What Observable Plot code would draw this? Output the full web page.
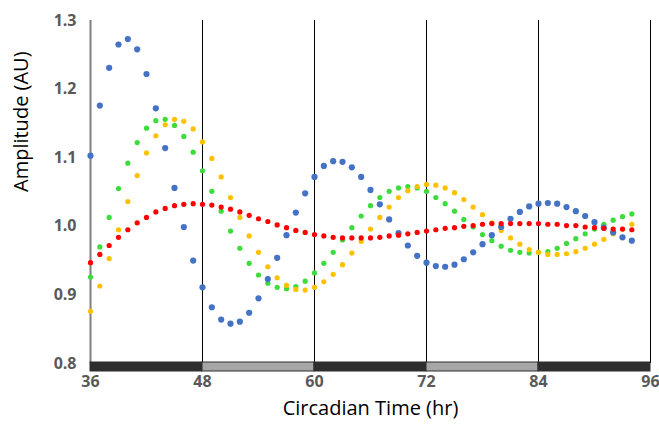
<!DOCTYPE html>
<html>
<head>
<meta charset="utf-8">
<script src="https://cdn.jsdelivr.net/npm/d3@7"></script>
<script src="https://cdn.jsdelivr.net/npm/@observablehq/plot@0.6"></script>
<style>
  html, body { margin: 0; padding: 0; background: #fff; }
  #chart { width: 659px; height: 430px; }
</style>
</head>
<body>
<div id="chart"></div>
<script>
const hours = [36,37,38,39,40,41,42,43,44,45,46,47,48,49,50,51,52,53,54,55,56,57,58,59,60,61,62,63,64,65,66,67,68,69,70,71,72,73,74,75,76,77,78,79,80,81,82,83,84,85,86,87,88,89,90,91,92,93,94];

const blueValues = [1.103,1.176,1.231,1.265,1.273,1.258,1.222,1.172,1.114,1.056,0.999,0.950,0.911,0.882,0.864,0.858,0.861,0.874,0.895,0.923,0.954,0.987,1.020,1.048,1.072,1.088,1.095,1.094,1.086,1.072,1.053,1.032,1.010,0.990,0.972,0.957,0.947,0.942,0.941,0.944,0.952,0.962,0.974,0.987,0.999,1.011,1.021,1.029,1.033,1.034,1.033,1.028,1.022,1.015,1.006,0.998,0.991,0.984,0.979];

const greenValues = [0.926,0.970,1.013,1.055,1.092,1.122,1.143,1.154,1.156,1.147,1.131,1.108,1.081,1.051,1.022,0.993,0.968,0.946,0.929,0.917,0.911,0.909,0.912,0.920,0.932,0.946,0.962,0.980,0.998,1.015,1.030,1.042,1.051,1.056,1.058,1.056,1.051,1.042,1.033,1.022,1.010,0.999,0.988,0.979,0.971,0.965,0.962,0.961,0.962,0.963,0.968,0.975,0.982,0.989,0.996,1.003,1.009,1.014,1.018];

const orangeValues = [0.876,0.913,0.953,0.995,1.036,1.074,1.107,1.132,1.148,1.156,1.153,1.142,1.123,1.099,1.072,1.042,1.013,0.986,0.962,0.941,0.925,0.914,0.908,0.907,0.911,0.919,0.930,0.944,0.961,0.978,0.996,1.013,1.028,1.042,1.052,1.058,1.061,1.060,1.056,1.049,1.039,1.028,1.017,1.005,0.994,0.983,0.974,0.966,0.962,0.959,0.959,0.960,0.963,0.968,0.974,0.981,0.989,0.996,1.003];

const redValues = [0.947,0.959,0.972,0.984,0.995,1.005,1.013,1.021,1.026,1.030,1.032,1.033,1.032,1.031,1.028,1.025,1.021,1.016,1.011,1.007,1.002,0.998,0.994,0.991,0.988,0.986,0.984,0.983,0.983,0.983,0.983,0.984,0.986,0.987,0.989,0.991,0.993,0.995,0.997,0.998,1.000,1.001,1.003,1.004,1.004,1.004,1.004,1.004,1.004,1.003,1.003,1.001,1.001,0.999,0.998,0.997,0.996,0.996,0.995];

const xTicks = [36,48,60,72,84,96];
const yTicks = [0.8,0.9,1.0,1.1,1.2,1.3];
const gridHours = [48,60,72,84,96];
const periods = [
  {start:36, end:48, phase:"dark"},
  {start:48, end:60, phase:"light"},
  {start:60, end:72, phase:"dark"},
  {start:72, end:84, phase:"light"},
  {start:84, end:96, phase:"dark"}
];

const series = [
  {name:"green", values:greenValues, color:"#3ddc3d", r:2.6},
  {name:"orange", values:orangeValues, color:"#ffc000", r:2.6},
  {name:"blue", values:blueValues, color:"#4472c4", r:3.1},
  {name:"red", values:redValues, color:"#ff0000", r:2.6}
];

const tickFont = "'Open Sans', 'Liberation Sans', sans-serif";
const titleFont = "'Open Sans', 'Liberation Sans', sans-serif";

const marks = [
  Plot.ruleX(gridHours, {x: d => d, y1: 0.8, y2: 1.3, stroke: "#000", strokeWidth: 1}),
  Plot.ruleX([36], {x: d => d, y1: 0.8, y2: 1.3, stroke: "#7f7f7f", strokeWidth: 2}),
  Plot.rect(periods, {x1: "start", x2: "end", y1: 0.8, y2: 0.8, insetTop: -1, insetBottom: -8,
    fill: d => d.phase === "dark" ? "#2e2e2e" : "#a6a6a6", stroke: "#2e2e2e", strokeWidth: 1}),
];
for (const s of series) {
  marks.push(Plot.dot(hours.map((h, i) => ({h, v: s.values[i]})), {
    x: "h", y: "v", r: s.r, fill: s.color, stroke: "none"
  }));
}
marks.push(
  Plot.axisX(xTicks, {tickSize: 0, tickPadding: 12, fontSize: 16, fontWeight: "bold", fill: "#595959", fontFamily: tickFont, label: null}),
  Plot.axisY(yTicks, {tickSize: 0, tickPadding: 14, fontSize: 16, fontWeight: "bold", fill: "#595959", fontFamily: tickFont, tickFormat: d3.format(".1f"), label: null}),
  Plot.text(["Circadian Time (hr)"], {frameAnchor: "bottom", dy: 51, fontSize: 20, fill: "#000", fontFamily: titleFont}),
  Plot.text(["Amplitude (AU)"], {frameAnchor: "left", dx: -69, rotate: -90, fontSize: 20, fill: "#000", fontFamily: titleFont})
);

const chart = Plot.plot({
  width: 659,
  height: 430,
  marginLeft: 90,
  marginRight: 9,
  marginTop: 20,
  marginBottom: 67,
  style: {background: "#fff", overflow: "visible"},
  x: {domain: [36, 96]},
  y: {domain: [0.8, 1.3]},
  marks
});
document.getElementById("chart").appendChild(chart);
</script>
</body>
</html>
